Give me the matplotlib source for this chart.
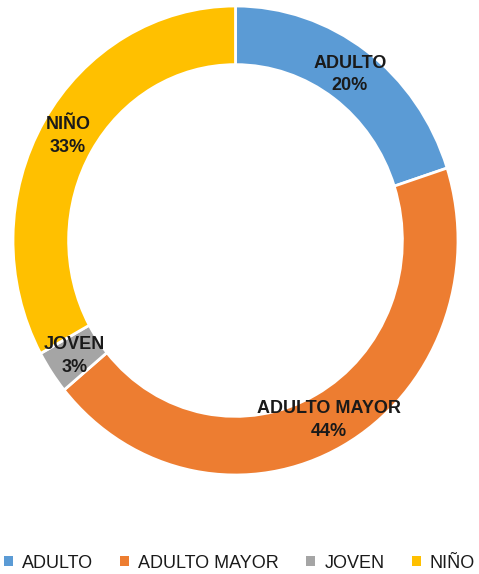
import matplotlib
matplotlib.use("Agg")
import matplotlib.pyplot as plt
from matplotlib.patches import Patch
import numpy as np

categories = ["ADULTO", "ADULTO MAYOR", "JOVEN", "NIÑO"]
percentages = [20, 44, 3, 33]
colors = ["#5B9BD5", "#ED7D31", "#A5A5A5", "#FFC000"]

plt.rcParams["font.family"] = ["Liberation Sans", "DejaVu Sans"]

W, H = 479, 574
fig = plt.figure(figsize=(W / 100, H / 100), dpi=100)
ax = fig.add_axes([13 / W, (H - 475) / H, 445 / W, 469 / H])

inner = 0.75
wedges, _ = ax.pie(
    percentages,
    colors=colors,
    startangle=90,
    counterclock=False,
    radius=1.0,
    wedgeprops=dict(width=1 - inner, edgecolor="white", linewidth=2),
)
ax.set_aspect("auto")
ax.set_xlim(-1, 1)
ax.set_ylim(-1, 1)

mid_r = (1 + inner) / 2
start = 90.0
for cat, pct in zip(categories, percentages):
    mid = np.deg2rad(start - pct * 3.6 / 2)
    start -= pct * 3.6
    ax.text(mid_r * np.cos(mid), mid_r * np.sin(mid), f"{cat}\n{pct}%",
            ha="center", va="center", fontsize=13, fontweight="bold",
            color="#1a1a1a", linespacing=1.45)

handles = [Patch(facecolor=c, edgecolor="none") for c in colors]
fig.legend(handles, categories, loc="center", bbox_to_anchor=(0.5, 1 - 563 / H),
           ncol=4, frameon=False, fontsize=13, handlelength=0.5, handleheight=0.5,
           handletextpad=0.5, columnspacing=1.5, labelcolor="#1a1a1a",
           borderpad=0, borderaxespad=0)

fig.savefig("out.png", dpi=100)
